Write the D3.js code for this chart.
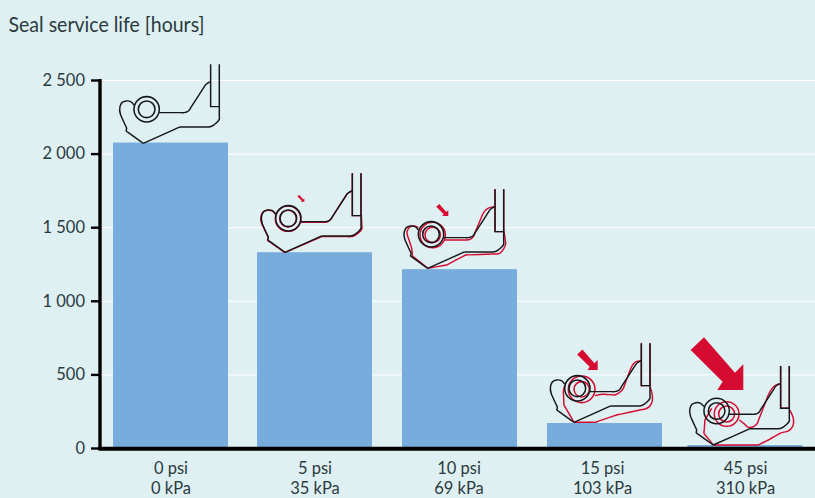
<!DOCTYPE html>
<html><head><meta charset="utf-8">
<script src="https://cdn.jsdelivr.net/npm/d3@7"></script>
<style>
html,body{margin:0;padding:0;background:#dff0f3;overflow:hidden}
svg{display:block}
text{font-family:Lato,"Noto Sans",sans-serif;fill:#2b3a40}
</style></head><body><svg id="c" width="815" height="498"></svg>
<script>
const psiLabels=["0 psi","5 psi","10 psi","15 psi","45 psi"];
const kpaLabels=["0 kPa","35 kPa","69 kPa","103 kPa","310 kPa"];
const hours=[2075,1330,1215,170,20];
const yTicks=[0,500,1000,1500,2000,2500];
const title="Seal service life [hours]";
const centres=[170.5,314.5,459.5,604.5,745];
const labelCentres=[171,315,459,602.5,745.5];
const arrowSizes=[0,0.13,0.23,0.39,1];

// Seal outline sketches, in units of 1/3 px relative to the lip tip
const strip=[[202,-237],[202,-110],[228,-110],[228,-237]];
const restOutline=[
 [[202,-185],[194,-181],[187,-176],[138,-100],[131,-94],[122,-92],[48,-92]],
 [[-28,-115],[-38,-125],[-52,-127],[-64,-122],[-70,-110],[-68,-85],[-50,-45],[-52,-37]],
 [[-52,-37],[0,0]],
 [[0,0],[110,-49]],
 [[110,-49],[195,-49],[205,-51],[218,-60],[228,-72],[228,-110]]
];
const restRings=[[10,-102,38],[10,-102,25]];
const deformed=[
 null,
 {rings:[[9,-101,38],[9,-101,25]],segs:[
  [[201,-184],[193,-180],[186,-175],[137,-99],[130,-93],[121,-90],[48,-90]],
  [[-29,-114],[-39,-124],[-53,-126],[-66,-121],[-72,-109],[-69,-84],[-50,-44],[-53,-36]],
  [[-53,-36],[0,1]],[[0,1],[110,-47]],
  [[110,-47],[196,-47],[206,-49],[220,-58],[231,-72],[229,-110]]]},
 {rings:[[15,-100,38],[15,-100,23]],segs:[
  [[202,-185],[186,-182],[174,-175],[164,-160],[137,-95],[127,-87],[115,-85],[52,-85]],
  [[-28,-122],[-40,-127],[-52,-125],[-62,-110],[-56,-85],[-48,-60],[-46,-37]],
  [[-46,-37],[0,0]],
  [[0,0],[57,-10],[114,-40],[202,-43],[216,-45],[228,-58],[234,-75],[229,-110]]]},
 {rings:[[23,-99,40],[23,-99,23]],segs:[
  [[200,-184],[186,-182],[178,-175],[166,-150],[148,-102],[135,-88],[122,-82],[90,-84],[63,-80]],
  [[-27,-112],[-32,-92],[-30,-52],[0,0]],
  [[0,0],[63,0],[128,-22],[213,-40],[226,-47],[234,-60],[235,-82],[228,-107]]]},
 {rings:[[40,-93,37],[40,-93,24]],segs:[
  [[202,-183],[190,-181],[178,-172],[165,-150],[132,-65],[122,-56],[105,-53],[92,-64],[78,-75]],
  [[-5,-110],[-25,-75],[-28,-35],[0,0]],
  [[0,0],[135,0],[165,-15],[200,-35],[228,-44],[239,-58],[240,-80],[228,-107]]]}
];
const tips=[[143.3,143.3],[285,252.3],[427.7,268.3],[574,422.3],[713.3,445]];
const arrowShape=[[-118,-158],[-158,-120],[-62,-25],[-78,0],[0,0],[0,-77],[-25,-52]];
const arrowCorners=[null,[304.3,201.7],[448.3,216],[597.7,370],[743.3,390]];

const W=815,H=498,x0=100,y0=448,yTop=80;
const colors={bar:"#77acdc",grid:"#ffffff",axis:"#000000",red:"#d60b31",line:"#15181b"};
const svg=d3.select("#c");
svg.append("rect").attr("width",W).attr("height",H).attr("fill","#dff0f3");

const y=d3.scaleLinear().domain([0,2500]).range([y0,yTop]);
const x=d3.scaleOrdinal().domain(psiLabels).range(centres);
const xLabel=d3.scaleOrdinal().domain(psiLabels).range(labelCentres);
const barW=115;

svg.append("g").selectAll("line").data(yTicks.slice(1)).join("line")
 .attr("x1",x0).attr("x2",W).attr("y1",d=>y(d)+.5).attr("y2",d=>y(d)+.5)
 .attr("stroke",colors.grid).attr("stroke-width",1);

svg.append("g").selectAll("rect").data(hours).join("rect")
 .attr("x",(d,i)=>x(psiLabels[i])-barW/2).attr("width",barW)
 .attr("y",d=>y(d)).attr("height",d=>y0-y(d)).attr("fill",colors.bar);

const fmt=d=>d>=1000?String(Math.floor(d/1000))+"\u00a0"+String(d%1000).padStart(3,"0"):String(d);
const yAxis=d3.axisLeft(y).tickValues(yTicks).tickFormat(fmt).tickSize(9).tickPadding(6);
const gy=svg.append("g").attr("transform",`translate(${x0},0)`).call(yAxis);
gy.select(".domain").remove();
gy.selectAll("line").attr("stroke",colors.axis).attr("stroke-width",2.4);
gy.selectAll("text").style("font-size","16.5px").attr("font-family",null);
svg.append("line").attr("x1",x0).attr("x2",x0).attr("y1",yTop-1).attr("y2",y0+2)
 .attr("stroke",colors.axis).attr("stroke-width",3.4);
svg.append("line").attr("x1",x0-1.5).attr("x2",W).attr("y1",y0+.7).attr("y2",y0+.7)
 .attr("stroke",colors.axis).attr("stroke-width",4);

const xl=svg.append("g").selectAll("g").data(psiLabels).join("g")
 .attr("transform",d=>`translate(${xLabel(d)},0)`).attr("text-anchor","middle").style("font-size","16.5px");
xl.append("text").attr("y",474).text(d=>d);
xl.append("text").attr("y",494).text((d,i)=>kpaLabels[i]);

svg.append("text").attr("x",8.5).attr("y",32).style("font-size","22px")
 .attr("textLength",196).attr("lengthAdjust","spacingAndGlyphs").text(title);

const curve=d3.line().curve(d3.curveCatmullRom.alpha(1));
const straight=d3.line();
// keep long chords straight: pin the curve near both ends of every long run
function pinned(seg){
 const out=[];
 seg.forEach((p,i)=>{
  if(i>0){
   const q=seg[i-1],L=Math.hypot(p[0]-q[0],p[1]-q[1]);
   if(L>30){const t=9/L;
    out.push([q[0]+(p[0]-q[0])*t,q[1]+(p[1]-q[1])*t],[p[0]-(p[0]-q[0])*t,p[1]-(p[1]-q[1])*t]);}
  }
  out.push(p);
 });
 return out;
}
function drawOutline(g,segs,rings,color){
 g.append("path").attr("d",straight(strip)).attr("fill","none").attr("stroke",color).attr("stroke-width",4.4);
 g.selectAll(null).data(segs).join("path").attr("d",s=>curve(pinned(s)))
  .attr("fill","none").attr("stroke",color).attr("stroke-width",4.4).attr("stroke-linejoin","round");
 g.selectAll(null).data(rings).join("circle")
  .attr("cx",d=>d[0]).attr("cy",d=>d[1]).attr("r",d=>d[2])
  .attr("fill","none").attr("stroke",color).attr("stroke-width",4.6);
}
tips.forEach((t,i)=>{
 const g=svg.append("g").attr("transform",`translate(${t[0]},${t[1]}) scale(${1/3})`);
 if(deformed[i]) drawOutline(g,deformed[i].segs,deformed[i].rings,colors.red);
 drawOutline(g,restOutline,restRings,colors.line);
});
arrowCorners.forEach((c,i)=>{
 if(!c) return;
 svg.append("polygon")
  .attr("transform",`translate(${c[0]},${c[1]}) scale(${arrowSizes[i]/3})`)
  .attr("points",arrowShape.map(p=>p.join(",")).join(" "))
  .attr("fill",colors.red);
});
</script></body></html>
